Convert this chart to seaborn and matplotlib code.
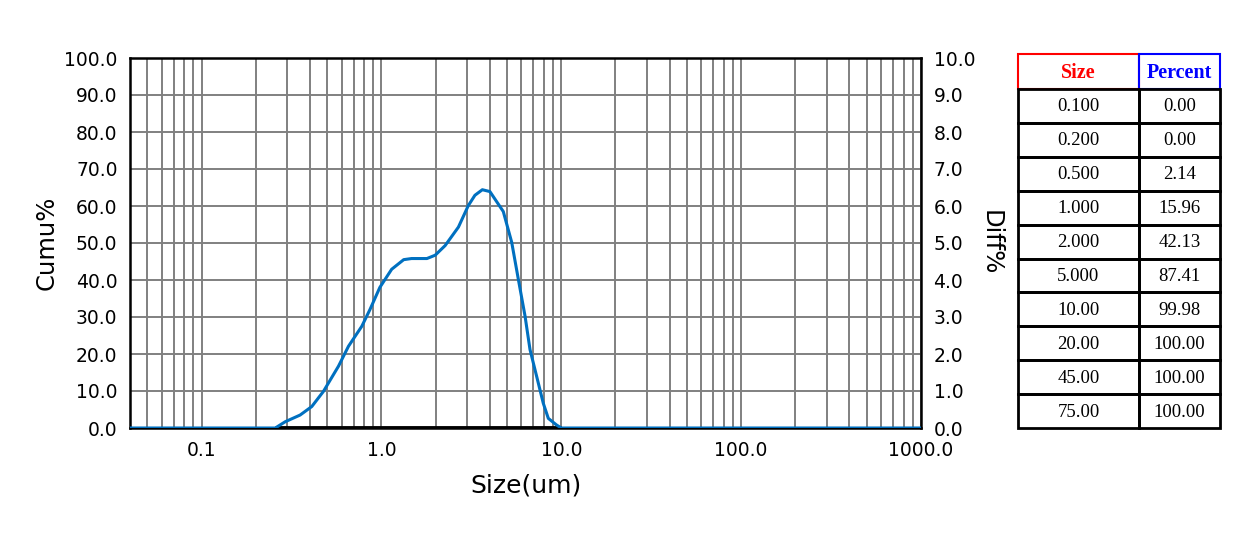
import numpy as np
import pandas as pd
import matplotlib
matplotlib.use("Agg")
import matplotlib.pyplot as plt
from matplotlib.patches import Rectangle
from matplotlib.ticker import FixedLocator, FixedFormatter, NullFormatter
import seaborn as sns

# differential distribution (size in um, diff %)
size = [0.04, 0.257, 0.292, 0.353, 0.41, 0.476, 0.577, 0.656, 0.778, 0.865, 0.98,
        1.14, 1.33, 1.47, 1.79, 1.99, 2.26, 2.68, 3.04, 3.31, 3.64, 4.01,
        4.76, 5.30, 5.77, 6.29, 6.70, 7.30, 7.94, 8.47, 9.42, 10.0, 1000.0]
diff = [0.0, 0.0, 0.17, 0.35, 0.58, 0.99, 1.67, 2.21, 2.75, 3.21, 3.80,
        4.29, 4.55, 4.58, 4.58, 4.67, 4.93, 5.43, 6.01, 6.29, 6.44, 6.39,
        5.85, 5.02, 4.02, 3.02, 2.12, 1.39, 0.67, 0.26, 0.08, 0.0, 0.0]

# table on the right
tbl_size = ["0.100", "0.200", "0.500", "1.000", "2.000", "5.000", "10.00", "20.00", "45.00", "75.00"]
tbl_pct = ["0.00", "0.00", "2.14", "15.96", "42.13", "87.41", "99.98", "100.00", "100.00", "100.00"]

x_major = [0.1, 1.0, 10.0, 100.0, 1000.0]
x_major_labels = ["0.1", "1.0", "10.0", "100.0", "1000.0"]

sns.set_style("white")
plt.rcParams['font.family'] = ['DejaVu Sans']
plt.rcParams['text.color'] = 'black'

W, H = 1260, 538
fig = plt.figure(figsize=(W / 100, H / 100), dpi=100)
ax = fig.add_axes([130 / W, 1 - 428 / H, (921 - 130) / W, (428 - 58) / H])
ax.set_xscale('log')
ax.set_ylim(0, 100)

ax2 = ax.twinx()
ax2.set_ylim(0, 10)

# black baseline under the distribution
ax2.plot([size[1], 10.0], [0, 0], color='black', linewidth=3.5, solid_capstyle='butt', zorder=3)
df = pd.DataFrame({"size": size, "diff": diff})
sns.lineplot(data=df, x="size", y="diff", ax=ax2, color='#0070C0', linewidth=2.2, zorder=4,
             sort=False, estimator=None)

# x axis set up after plotting so nothing resets it
ax.set_xlim(0.04, 1000)
minor = [m * 10.0 ** k for k in range(-2, 3) for m in range(2, 10)]
minor = [v for v in minor if 0.04 < v < 1000]
ax.xaxis.set_major_locator(FixedLocator(x_major))
ax.xaxis.set_major_formatter(FixedFormatter(x_major_labels))
ax.xaxis.set_minor_locator(FixedLocator(minor))
ax.xaxis.set_minor_formatter(NullFormatter())
ax.set_yticks(np.arange(0, 101, 10))
ax.set_yticklabels([f"{v:.1f}" for v in np.arange(0, 101, 10)])
ax.grid(True, which='both', color='#808080', linewidth=1.4)
ax.tick_params(axis='both', which='both', length=0, labelsize=13.5, pad=9, labelcolor='black')
for s in ax.spines.values():
    s.set_color('black')
    s.set_linewidth(1.8)
ax.set_xlabel("Size(um)", fontsize=18, labelpad=10, color='black')
ax.set_ylabel("Cumu%", fontsize=17.5, labelpad=4, color='black')

ax2.set_yticks(np.arange(0, 11, 1))
ax2.set_yticklabels([f"{v:.1f}" for v in np.arange(0, 11, 1)])
ax2.tick_params(axis='y', length=0, labelsize=13.5, pad=9, labelcolor='black')
for s in ax2.spines.values():
    s.set_visible(False)
ax2.set_xlabel("")
ax2.set_ylabel("Diff%", fontsize=17.5, rotation=-90, labelpad=20, color='black')

# table
tax = fig.add_axes([0, 0, 1, 1])
tax.set_xlim(0, W)
tax.set_ylim(H, 0)
tax.axis('off')
c0, c1, c2 = 1018, 1139, 1220
top, hdr = 54, 89
rh = (428 - hdr) / len(tbl_size)
tax.add_patch(Rectangle((c0, top), c1 - c0, hdr - top, fill=False, edgecolor='red', linewidth=1.5))
tax.add_patch(Rectangle((c1, top), c2 - c1, hdr - top, fill=False, edgecolor='blue', linewidth=1.5))
tax.text((c0 + c1) / 2, (top + hdr) / 2 + 1, "Size", color='red', fontweight='bold',
         fontsize=14.5, family='Liberation Serif', ha='center', va='center')
tax.text((c1 + c2) / 2, (top + hdr) / 2 + 1, "Percent", color='blue', fontweight='bold',
         fontsize=14.5, family='Liberation Serif', ha='center', va='center')
for i, (s, p) in enumerate(zip(tbl_size, tbl_pct)):
    y0 = hdr + i * rh
    tax.add_patch(Rectangle((c0, y0), c1 - c0, rh, fill=False, edgecolor='black', linewidth=2))
    tax.add_patch(Rectangle((c1, y0), c2 - c1, rh, fill=False, edgecolor='black', linewidth=2))
    tax.text((c0 + c1) / 2, y0 + rh / 2 + 1, s, fontsize=13.5, family='Liberation Serif',
             ha='center', va='center')
    tax.text((c1 + c2) / 2, y0 + rh / 2 + 1, p, fontsize=13.5, family='Liberation Serif',
             ha='center', va='center')

fig.savefig("out.png", dpi=100)
